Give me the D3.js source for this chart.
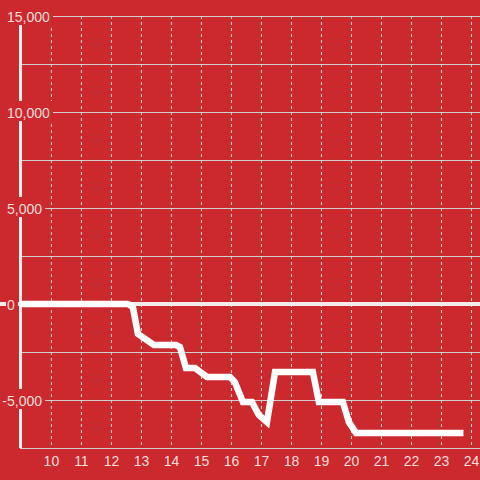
<!DOCTYPE html>
<html>
<head>
<meta charset="utf-8">
<script src="https://cdn.jsdelivr.net/npm/d3@7"></script>
<style>
  html, body { margin: 0; padding: 0; background: #cc292e; }
  svg { display: block; font-family: "Liberation Sans", Arial, sans-serif; }
</style>
</head>
<body>
<script>
'use strict';

// hour of day
const hours = [8.97, 12.57, 12.73, 12.9, 13.43, 14.17, 14.3, 14.5, 14.8, 15.2, 15.97,
  16.13, 16.4, 16.7, 16.93, 17.2, 17.47, 18.73, 18.93, 19.73, 19.93, 20.17, 23.75];
const values = [0, 0, -150, -1560, -2135, -2135, -2240, -3330, -3330, -3800, -3800,
  -4060, -5100, -5100, -5780, -6150, -3540, -3540, -5100, -5100, -6150, -6720, -6720];
const xTicks = [10, 11, 12, 13, 14, 15, 16, 17, 18, 19, 20, 21, 22, 23, 24];
const yLabels = [-5000, 0, 5000, 10000, 15000];
const yGrid = [-7500, -5000, -2500, 0, 2500, 5000, 7500, 10000, 12500, 15000];

const W = 480, H = 480;
const BG = '#cc292e';
const TEXT = 'rgba(255,255,255,0.85)';

const x = d3.scaleLinear().domain([8.97, 24.3]).range([20, 480]);
const y = d3.scaleLinear().domain([-7500, 15000]).range([448, 16]);

const svg = d3.select('body').append('svg')
  .attr('width', W)
  .attr('height', H);

svg.append('rect')
  .attr('width', W)
  .attr('height', H)
  .attr('fill', BG);

// horizontal grid
svg.append('g')
  .selectAll('line')
  .data(yGrid.filter((d) => d !== 0))
  .enter().append('line')
  .attr('x1', x.range()[0])
  .attr('x2', W)
  .attr('y1', (d) => y(d) + 0.5)
  .attr('y2', (d) => y(d) + 0.5)
  .attr('stroke', '#cfcfcf')
  .attr('stroke-width', 1);

// vertical dashed grid
svg.append('g')
  .selectAll('line')
  .data(xTicks)
  .enter().append('line')
  .attr('x1', (d) => x(d) + 0.5)
  .attr('x2', (d) => x(d) + 0.5)
  .attr('y1', y(15000))
  .attr('y2', y(-7500))
  .attr('stroke', '#dedede')
  .attr('stroke-width', 1)
  .attr('stroke-dasharray', '3,3');

// zero line
svg.append('line')
  .attr('x1', 0)
  .attr('x2', W)
  .attr('y1', y(0))
  .attr('y2', y(0))
  .attr('stroke', '#f3eaea')
  .attr('stroke-width', 4);

// y axis line
svg.append('line')
  .attr('x1', x.range()[0] + 0.5)
  .attr('x2', x.range()[0] + 0.5)
  .attr('y1', y(15000))
  .attr('y2', y(-7500))
  .attr('stroke', '#eeeeee')
  .attr('stroke-width', 3);

const line = d3.line()
  .x((d, i) => x(hours[i]))
  .y((d) => y(d));

svg.append('path')
  .datum(values)
  .attr('d', line)
  .attr('fill', 'none')
  .attr('stroke', '#ffffff')
  .attr('stroke-width', 6.5)
  .attr('stroke-linejoin', 'miter')
  .attr('stroke-linecap', 'butt');

// y labels: number left aligned, minus sign hangs to the left
const fmt = d3.format(',');
const labelX = 7;
const yl = svg.append('g')
  .selectAll('g')
  .data(yLabels)
  .enter().append('g');

yl.append('rect').attr('fill', BG);

yl.append('text')
  .attr('x', labelX)
  .attr('y', (d) => y(d))
  .attr('dy', '0.4em')
  .attr('font-size', 14)
  .attr('fill', TEXT)
  .text((d) => fmt(Math.abs(d)));

yl.filter((d) => d < 0).append('text')
  .attr('x', labelX)
  .attr('y', (d) => y(d))
  .attr('dy', '0.4em')
  .attr('text-anchor', 'end')
  .attr('font-size', 14)
  .attr('fill', TEXT)
  .text('-');

yl.each(function (d) {
  const g = d3.select(this);
  const b = this.getBBox();
  g.select('rect')
    .attr('x', b.x - 1)
    .attr('y', y(d) - 11)
    .attr('width', b.width + 4)
    .attr('height', 20);
});

// x labels
svg.append('g')
  .selectAll('text')
  .data(xTicks)
  .enter().append('text')
  .attr('x', (d) => x(d) + 0.5)
  .attr('y', 466)
  .attr('text-anchor', 'middle')
  .attr('font-size', 14)
  .attr('fill', TEXT)
  .text((d) => d);
</script>
</body>
</html>
